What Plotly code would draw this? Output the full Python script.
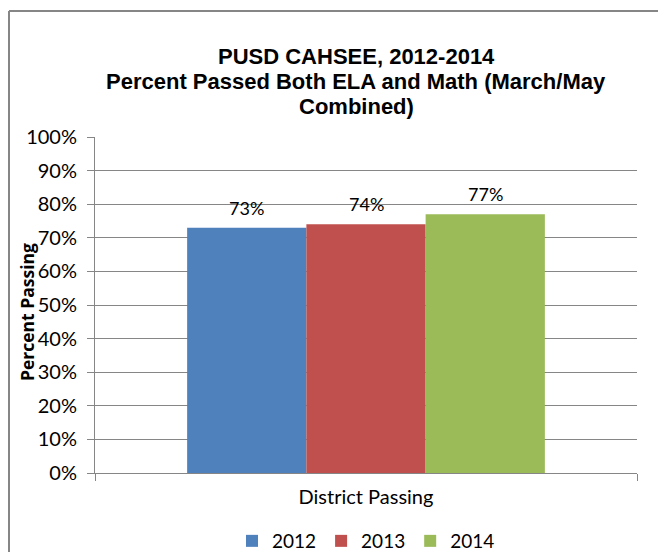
import plotly.graph_objects as go

categories = ["District Passing"]
years = ["2012", "2013", "2014"]
values_2012 = [73]
values_2013 = [74]
values_2014 = [77]
colors = ["#4F81BD", "#C0504D", "#9BBB59"]
y_ticks = [0, 10, 20, 30, 40, 50, 60, 70, 80, 90, 100]
y_tick_labels = [f"{v}%" for v in y_ticks]
title_lines = ["PUSD CAHSEE, 2012-2014",
               "Percent Passed Both ELA and Math (March/May",
               "Combined)"]
y_title = "Percent Passing"

series = [values_2012, values_2013, values_2014]

# page offset (body margin) and figure size
OX, OY = 8, 8
W, H = 650, 544
# plot area in page pixels: x 95..637, y 137..473
L = 95 - OX
R = W - (637 - OX)
T = 137 - OY
B = H - (473 - OY)
PW, PH = W - L - R, H - T - B
BARGAP = 0.34

def px_x(x):
    return (x - OX - L) / PW

def px_y(y):
    return (H - B - (y - OY)) / PH

FONT = "Lato, Liberation Sans"

fig = go.Figure()
for name, vals, col in zip(years, series, colors):
    fig.add_trace(go.Bar(
        x=categories, y=vals, name=name,
        marker=dict(color=col, line=dict(width=0)),
        cliponaxis=False,
    ))

annotations = []
bar_px = PW * (1 - BARGAP) / len(series)
for i, vals in enumerate(series):
    for cat, v in zip(categories, vals):
        annotations.append(dict(
            text=f"{v}%", x=cat, y=v, xref="x", yref="y",
            xshift=(i - (len(series) - 1) / 2) * bar_px, yshift=20,
            xanchor="center", yanchor="middle", showarrow=False,
            font=dict(family=FONT, size=18, color="#000000"),
        ))
for i, line in enumerate(title_lines):
    annotations.append(dict(
        text=f"<b>{line}</b>", xref="paper", yref="paper",
        x=px_x(356), y=px_y(57 + i * 24.5), xanchor="center", yanchor="middle",
        showarrow=False,
        font=dict(family="Liberation Sans", size=22, color="#000000"),
    ))
annotations.append(dict(
    text=f"<b>{y_title}</b>", xref="paper", yref="paper",
    x=px_x(27), y=px_y(312), xanchor="center", yanchor="middle",
    textangle=-90, showarrow=False,
    font=dict(family="Open Sans, Liberation Sans", size=17.5, color="#000000"),
))

border = dict(color="#868686", width=2)
fig.update_layout(
    width=W, height=H,
    paper_bgcolor="white", plot_bgcolor="white",
    margin=dict(l=L, r=R, t=T, b=B, autoexpand=False),
    barmode="group", bargap=BARGAP, bargroupgap=0,
    annotations=annotations,
    legend=dict(
        orientation="h", x=px_x(366), xanchor="center",
        y=px_y(522), yanchor="top",
        font=dict(family=FONT, size=19, color="#000000"),
        itemwidth=30, traceorder="normal",
    ),
    showlegend=True,
    shapes=[
        dict(type="line", xref="paper", yref="paper",
             x0=px_x(9), x1=px_x(OX + W), y0=px_y(11), y1=px_y(11),
             line=border, layer="below"),
        dict(type="line", xref="paper", yref="paper",
             x0=px_x(9), x1=px_x(9), y0=px_y(11), y1=px_y(OY + H),
             line=border, layer="below"),
    ],
)

fig.update_yaxes(
    range=[0, 100], tickvals=y_ticks, ticktext=y_tick_labels,
    showgrid=True, gridcolor="#868686", gridwidth=1,
    showline=True, linecolor="#868686", linewidth=1,
    ticks="outside", ticklen=7, tickcolor="#868686",
    ticklabelstandoff=6,
    tickfont=dict(family=FONT, size=20, color="#000000"),
    automargin=False, zeroline=False,
)
fig.update_xaxes(
    showline=True, linecolor="#868686", linewidth=1,
    ticks="outside", ticklen=7, tickcolor="#868686", tickson="boundaries",
    ticklabelstandoff=6,
    tickfont=dict(family=FONT, size=20, color="#000000"),
    showgrid=False, automargin=False,
)

fig.write_html("out.html")
